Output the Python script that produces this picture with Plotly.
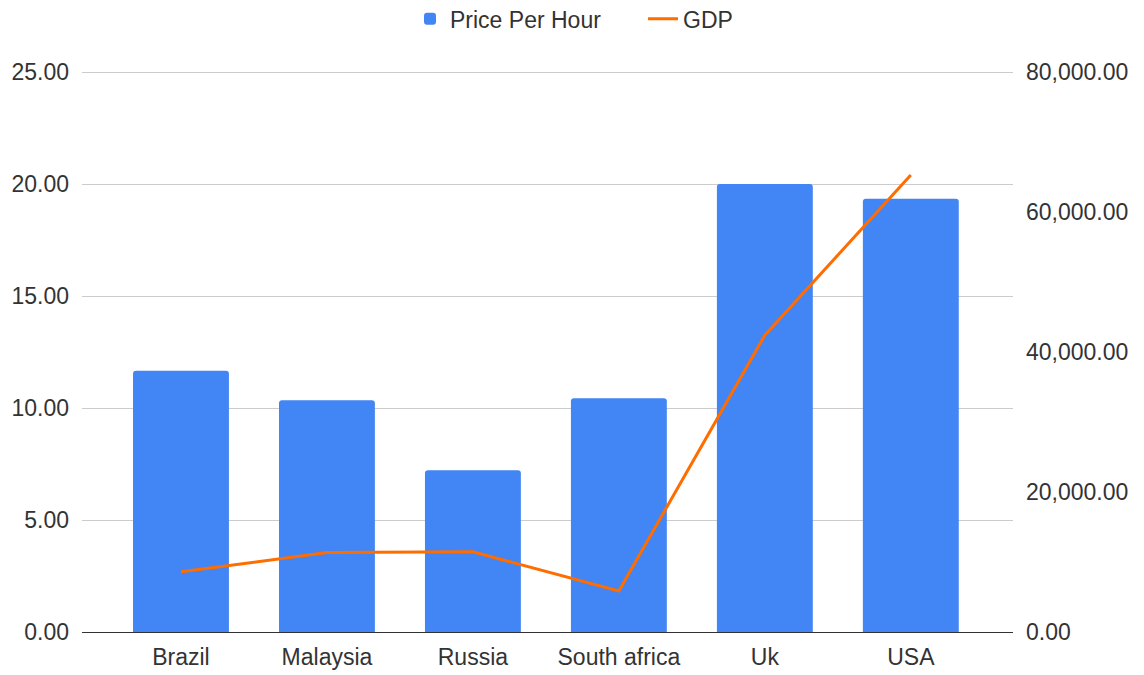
import plotly.graph_objects as go

countries = ["Brazil", "Malaysia", "Russia", "South africa", "Uk", "USA"]
price_per_hour = [11.67, 10.35, 7.22, 10.44, 20.0, 19.35]
gdp = [8600, 11350, 11450, 5850, 42400, 65300]

font_family = "Liberation Sans, Arial, sans-serif"
text_color = "#333333"
fsize = 23

fig = go.Figure()
fig.add_trace(go.Bar(
    x=countries, y=price_per_hour, name="Price Per Hour",
    marker=dict(color="#4285F4", line=dict(width=0)),
    width=0.657, yaxis="y",
))
fig.add_trace(go.Scatter(
    x=countries, y=gdp, name="GDP", mode="lines",
    line=dict(color="#FF6D01", width=3), yaxis="y2",
))

fig.update_layout(
    width=1144, height=675,
    margin=dict(l=82, r=131, t=71, b=43, autoexpand=False),
    paper_bgcolor="white", plot_bgcolor="white",
    font=dict(family=font_family, size=fsize, color=text_color),
    barcornerradius=3,
    showlegend=True,
    legend=dict(orientation="h", xref="container", yref="container",
                x=0.3584, xanchor="left", y=0.972, yanchor="middle",
                font=dict(size=fsize, color=text_color), itemwidth=30,
                entrywidth=188, bgcolor="rgba(0,0,0,0)"),
    xaxis=dict(range=[-0.678, 5.70], showgrid=False, showline=True,
               linecolor="#333333", linewidth=1, ticks="", automargin=False,
               ticklabelstandoff=4),
    yaxis=dict(range=[0, 25.05], tickvals=[0, 5, 10, 15, 20, 25], tickformat=".2f",
               showgrid=True, gridcolor="#cccccc", gridwidth=1, zeroline=False,
               ticks="", ticklabelstandoff=12, automargin=False),
    yaxis2=dict(range=[0, 80000 * 25.05 / 25], tickvals=[0, 20000, 40000, 60000, 80000],
                tickformat=",.2f", overlaying="y",
                side="right", showgrid=False, zeroline=False, ticks="",
                ticklabelstandoff=12, automargin=False),
)

fig.write_html("out.html", config={"displayModeBar": False},
               post_script="document.body.style.margin='0';")
